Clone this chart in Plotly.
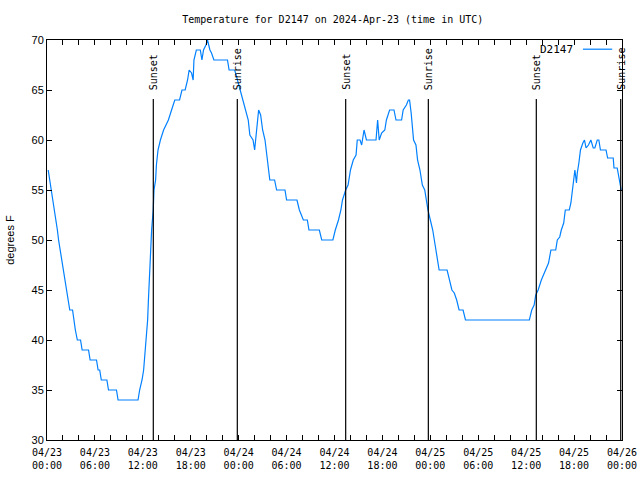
import pandas as pd
import plotly.graph_objects as go

# ---- data ----
start = pd.Timestamp("2024-04-23 00:00")
hours = [0.15, 0.35, 0.5, 0.7, 0.9, 1.1, 1.3, 1.45, 1.65, 1.85, 2.0, 2.2, 2.45, 2.65, 2.85, 3.2,
         3.35, 3.55, 3.8, 4.2, 4.4, 5.2, 5.4, 6.2, 6.4, 6.6, 6.8, 7.5, 7.7, 8.7, 8.9, 11.4,
         11.6, 11.9, 12.1, 12.3, 12.4, 12.6, 12.7, 12.8, 12.9, 13.0, 13.1, 13.3, 13.4, 13.6,
         13.7, 13.9, 14.2, 14.6, 14.9, 15.2, 15.6, 16.0, 16.6, 16.9, 17.3, 17.6, 17.8, 18.1,
         18.3, 18.4, 18.7, 19.2, 19.4, 19.6, 19.9, 20.1, 20.4, 20.6, 20.9, 22.6, 22.8, 23.5,
         23.75, 24.2, 24.6, 24.9, 25.2, 25.4, 25.8, 26.0, 26.25, 26.5, 26.75, 27.0, 27.3,
         27.6, 27.8, 27.9, 28.5, 28.75, 29.8, 30.0, 31.3, 31.6, 32.1, 32.6, 32.8, 34.1, 34.4,
         35.8, 36.1, 36.5, 36.8, 37.0, 37.4, 37.7, 38.0, 38.35, 38.7, 38.85, 39.2, 39.4, 39.5,
         39.7, 40.0, 41.2, 41.4, 41.6, 41.9, 42.3, 42.5, 42.9, 43.45, 43.7, 44.4, 44.6, 45.0,
         45.25, 45.4, 45.6, 45.9, 46.2, 46.4, 46.7, 47.0, 47.3, 47.5, 47.7, 48.0, 48.3, 48.6,
         48.9, 49.1, 50.1, 50.4, 50.7, 51.0, 51.3, 51.6, 52.1, 52.4, 60.4, 60.7, 61.0, 61.2,
         61.5, 61.9, 62.4, 62.8, 63.1, 63.7, 63.9, 64.2, 64.4, 64.7, 64.9, 65.4, 65.6, 65.8,
         66.0, 66.1, 66.3, 66.4, 66.6, 66.8, 67.1, 67.3, 67.5, 67.8, 68.1, 68.4, 68.6, 68.9,
         69.1, 69.3, 70.0, 70.2, 70.9, 71.0, 71.4, 71.6, 71.8, 71.9]
temps = [57, 56, 55, 54, 53, 52, 51, 50, 49, 48, 47, 46, 45, 44, 43, 43,
         42, 41, 40, 40, 39, 39, 38, 38, 37, 37, 36, 36, 35, 35, 34, 34,
         35, 36, 37, 39, 40, 42, 44, 46, 47, 49, 51, 53, 55, 56,
         57.5, 59, 60, 61, 61.5, 62, 63, 64, 64, 65, 65, 66, 67, 66.7,
         66, 68, 69, 69, 68, 69, 69.5, 70, 69, 68.7, 68, 68, 67, 67,
         66.3, 65, 64, 63, 62, 60.5, 60, 59, 61, 63, 62.5, 61, 60,
         58, 57, 56, 56, 55, 55, 54, 54, 53, 52, 52, 51, 51, 50,
         50, 51, 52, 53, 54, 55, 55.5, 57, 58, 58.5, 60, 60, 59.5, 60,
         61, 60, 60, 62, 60, 60.7, 61, 62, 63, 63, 62, 62, 63, 63.5,
         64, 64, 62.7, 60, 59.5, 58, 57, 55.5, 55, 54, 53, 52, 51, 49.5,
         48, 47, 47, 46, 45, 44.7, 44, 43, 43, 42, 42, 43, 43.5, 44.5,
         45, 46, 47, 47.7, 49, 49, 50, 50.3, 51, 51.7, 53, 53, 53.7, 55,
         56.7, 57, 55.7, 56.7, 57.7, 59, 59.7, 60, 59.2, 59.5, 60, 59.2, 59.2, 60,
         60, 59, 59, 58.2, 58.2, 57.2, 57.2, 56.2, 55.5, 55]
sun_hours = [13.31, 23.83, 37.40, 47.75, 61.27, 71.84]
sun_labels = ["Sunset", "Sunrise", "Sunset", "Sunrise", "Sunset", "Sunrise"]
series_name = "D2147"
title_text = "Temperature for D2147 on 2024-Apr-23 (time in UTC)"
y_title = "degrees F"

times = [start + pd.Timedelta(hours=h) for h in hours]
sun_times = [start + pd.Timedelta(hours=h) for h in sun_hours]

MONO = "DejaVu Sans Mono"
SANS = "Liberation Sans"

fig = go.Figure()
fig.add_trace(go.Scatter(x=times, y=temps, mode="lines", name=series_name,
                         line=dict(color="#0080ff", width=1.2), showlegend=False))

shapes = []
annotations = []
for t, lab in zip(sun_times, sun_labels):
    shapes.append(dict(type="line", xref="x", yref="y", x0=t, x1=t, y0=30, y1=64.1,
                       line=dict(color="black", width=1.2)))
    annotations.append(dict(x=t, y=64.8, xref="x", yref="y", text=lab, textangle=-90,
                            showarrow=False, xanchor="center", yanchor="bottom",
                            font=dict(family=MONO, size=10, color="black")))

# legend drawn gnuplot-style (label then line sample)
annotations.append(dict(x=0.919, y=0.976, xref="paper", yref="paper", text=series_name,
                        showarrow=False, xanchor="right", yanchor="middle",
                        font=dict(family=MONO, size=11, color="black")))
shapes.append(dict(type="line", xref="paper", yref="paper", x0=0.932, x1=0.983,
                   y0=0.977, y1=0.977, line=dict(color="#0080ff", width=1.2)))

fig.update_layout(
    width=640, height=480,
    margin=dict(l=47, r=18, t=40, b=40, autoexpand=False),
    paper_bgcolor="white", plot_bgcolor="white",
    title=dict(text=title_text, x=0.52, xanchor="center", y=0.96, yanchor="middle",
               font=dict(family=MONO, size=10, color="black")),
    shapes=shapes, annotations=annotations,
    showlegend=False,
)
fig.update_xaxes(
    type="date", automargin=False,
    range=[start, start + pd.Timedelta(hours=72)],
    tickmode="linear", tick0=start, dtick=6 * 3600 * 1000,
    tickformat="%m/%d<br>%H:%M",
    ticks="inside", ticklen=5, tickcolor="black",
    minor=dict(dtick=2 * 3600 * 1000, ticks="inside", ticklen=5, tickcolor="black"),
    showline=True, linecolor="black", linewidth=1, mirror="ticks",
    showgrid=False, zeroline=False,
    tickfont=dict(family=MONO, size=10, color="black"),
    ticklabelstandoff=3,
)
fig.update_yaxes(
    automargin=False,
    range=[30, 70], tickmode="linear", tick0=30, dtick=5,
    ticks="inside", ticklen=5, tickcolor="black",
    showline=True, linecolor="black", linewidth=1, mirror="ticks",
    showgrid=False, zeroline=False,
    tickfont=dict(family=SANS, size=11, color="black"),
    title=dict(text=y_title, font=dict(family=SANS, size=11, color="black"), standoff=14),
)

fig.write_html("out.html", config={"displayModeBar": False},
               post_script="document.body.style.margin='0px';document.body.style.overflow='hidden';")
